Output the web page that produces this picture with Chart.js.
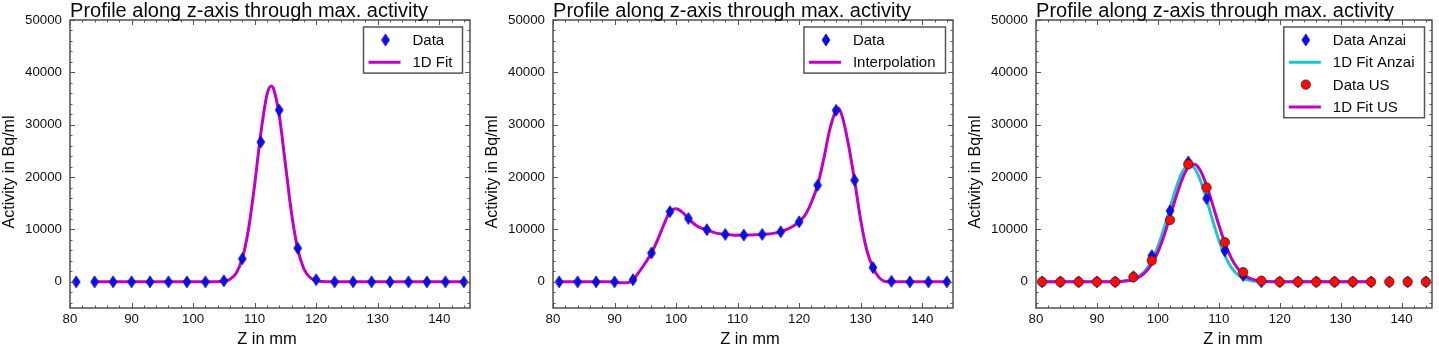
<!DOCTYPE html>
<html>
<head>
<meta charset="utf-8">
<script src="https://cdn.jsdelivr.net/npm/chart.js@4/dist/chart.umd.min.js"></script>
<style>
html,body{margin:0;padding:0;background:#fff;overflow:hidden}
#wrap{position:relative;width:1439px;height:346px;background:#fff}
canvas{position:absolute;top:0}
</style>
</head>
<body>
<div id="wrap">
<canvas id="c1" width="480" height="346" style="left:0px"></canvas>
<canvas id="c2" width="480" height="346" style="left:480px"></canvas>
<canvas id="c3" width="479" height="346" style="left:960px"></canvas>
</div>
<script>
// ---------------- texts ----------------
const TITLE = 'Profile along z-axis through max. activity';
const X_LABEL = 'Z in mm';
const Y_LABEL = 'Activity in Bq/ml';

// ---------------- axes ----------------
const X_TICKS = [80, 90, 100, 110, 120, 130, 140];
const Y_TICKS = [0, 10000, 20000, 30000, 40000, 50000];
const X_MIN = 80, X_MAX = 145, Y_MIN = -5000, Y_MAX = 50000;

// ---------------- measured positions (mm) ----------------
const Z_DATA = [81, 84, 87, 90, 93, 96, 99, 102, 105, 108, 111, 114, 117, 120, 123, 126, 129, 132, 135, 138, 141, 144];

// ---------------- panel 1 ----------------
const P1_DATA = [0, 0, 0, 0, 0, 0, 0, 0, 200, 4400, 26700, 32800, 6400, 400, 0, 0, 0, 0, 0, 0, 0, 0];
const P1_FIT_Z = [84, 90, 96, 100, 102, 103, 104, 105, 106, 107, 108, 109, 110, 111, 112, 112.7, 113, 114, 115, 116, 117, 118, 119, 120, 121, 122, 123, 126, 132, 138, 144];
const P1_FIT = [0, 0, 0, 0, 0, 5, 30, 125, 500, 1650, 4470, 10000, 18500, 28300, 35700, 37400, 37100, 31800, 22500, 13100, 6300, 2500, 830, 220, 50, 10, 0, 0, 0, 0, 0];

// ---------------- panel 2 ----------------
const P2_DATA = [0, 0, 0, 0, 400, 5500, 13400, 12100, 9950, 9060, 8930, 9060, 9560, 11460, 18440, 32760, 19400, 2720, 100, 0, 0, 0];
const P2_INT_Z = [81, 84, 87, 89, 90, 91, 92, 93, 94, 95, 96, 97, 98, 99, 100, 101, 102, 103, 104, 105, 106, 107, 108, 109, 110, 111, 112, 113, 114, 115, 116, 117, 118, 119, 120, 121, 122, 123, 124, 125, 126, 126.3, 127, 128, 129, 130, 131, 132, 133, 134, 135, 136, 138, 141, 144];
const P2_INT = [0, 0, 0, 0, -50, -180, -200, 400, 1900, 3600, 5500, 8000, 10900, 13400, 13950, 13300, 12100, 11000, 10300, 9950, 9500, 9200, 9060, 8950, 8900, 8930, 8960, 9000, 9060, 9150, 9300, 9560, 10000, 10600, 11460, 12800, 15200, 18440, 23500, 29200, 32800, 33200, 31600, 26300, 19400, 11800, 6000, 2720, 800, 50, 0, 0, 0, 0, 0];

// ---------------- panel 3 ----------------
const P3_ANZAI = [0, 0, 0, 0, 0, 1000, 5000, 13550, 22900, 15900, 5950, 1200, 0, 0, 0, 0, 0, 0, 0, 0, 0, 0];
const P3_US = [0, 0, 0, 0, 0, 890, 4050, 11800, 22430, 18000, 7550, 1840, 200, 0, 0, 0, 0, 0, 0, 0, 0, 0];
const P3_FIT_Z = [81, 87, 92, 93, 94, 95, 96, 97, 98, 99, 100, 101, 102, 103, 104, 105, 106, 107, 108, 109, 110, 111, 112, 113, 114, 115, 116, 117, 118, 119, 125, 130, 135];
const P3_FIT_ANZAI = [0, 0, 0, 10, 80, 220, 510, 1120, 2220, 4030, 6690, 10170, 14140, 17970, 20920, 22300, 21700, 19310, 15730, 11720, 7990, 4980, 2840, 1480, 710, 310, 120, 45, 15, 0, 0, 0, 0];
const P3_FIT_US = [0, 0, 10, 25, 80, 190, 440, 950, 1870, 3390, 5670, 8750, 12430, 16260, 19620, 21900, 22450, 21200, 18390, 14750, 10900, 7430, 4670, 2700, 1440, 710, 320, 130, 50, 20, 0, 0, 0];

// ---------------- styles ----------------
const FONT = '"Liberation Sans", Arial, Helvetica, sans-serif';
Chart.defaults.font.family = FONT;
const MAGENTA = '#c000c4';
const CYAN = '#1cc6c6';
const BLUE = '#0a0aff';
const RED = '#ff0a0a';

function diamondImage(w, h) {
  const c = document.createElement('canvas');
  c.width = w + 2; c.height = h + 2;
  const g = c.getContext('2d');
  g.beginPath();
  g.moveTo(c.width / 2, 1);
  g.lineTo(c.width - 1, c.height / 2);
  g.lineTo(c.width / 2, c.height - 1);
  g.lineTo(1, c.height / 2);
  g.closePath();
  g.fillStyle = BLUE; g.fill();
  g.lineWidth = 0.8; g.strokeStyle = 'rgba(10,10,60,0.85)'; g.stroke();
  return c;
}
const DIAMOND = diamondImage(8, 12);

function pts(xs, ys) { return xs.map((x, i) => ({ x: x, y: ys[i] })); }

function dataSet(label, ys, rank, order) {
  return { label, data: pts(Z_DATA, ys), pointStyle: DIAMOND, pointRadius: 6, pointHoverRadius: 6,
           showLine: false, legendRank: rank, order: order, markerKind: 'diamond' };
}
function circleSet(label, ys, rank, order) {
  return { label, data: pts(Z_DATA, ys), pointStyle: 'circle', pointRadius: 4.7, pointHoverRadius: 4.7,
           backgroundColor: RED, borderColor: 'rgba(60,20,20,0.9)', borderWidth: 0.8,
           showLine: false, legendRank: rank, order: order, markerKind: 'circle' };
}
function lineSet(label, xs, ys, color, rank, order) {
  return { label, data: pts(xs, ys), showLine: true, pointRadius: 0, pointHoverRadius: 0,
           borderColor: color, borderWidth: 3, cubicInterpolationMode: 'monotone',
           legendRank: rank, order: order, markerKind: 'line' };
}

// ---------------- plugins ----------------
const frameTicks = {
  id: 'frameTicks',
  afterDraw(chart) {
    const { ctx, chartArea: ca, scales: { x, y } } = chart;
    ctx.save();
    ctx.strokeStyle = '#555';
    ctx.lineWidth = 1;
    ctx.beginPath();
    for (let v = X_MIN; v <= X_MAX; v += 2) {
      const len = (v % 10 === 0) ? 5 : 2.5;
      const px = Math.round(x.getPixelForValue(v)) + 0.5;
      ctx.moveTo(px, ca.bottom); ctx.lineTo(px, ca.bottom - len);
      ctx.moveTo(px, ca.top); ctx.lineTo(px, ca.top + len);
    }
    for (let v = -4000; v <= Y_MAX; v += 2000) {
      const len = (v % 10000 === 0) ? 5 : 2.5;
      const py = Math.round(y.getPixelForValue(v)) + 0.5;
      ctx.moveTo(ca.left, py); ctx.lineTo(ca.left + len, py);
      ctx.moveTo(ca.right, py); ctx.lineTo(ca.right - len, py);
    }
    ctx.stroke();
    ctx.lineWidth = 1.5;
    ctx.strokeStyle = '#505050';
    ctx.strokeRect(ca.left, ca.top, ca.right - ca.left, ca.bottom - ca.top);
    ctx.restore();
  }
};

const texts = {
  id: 'texts',
  afterDraw(chart) {
    const { ctx, chartArea: ca } = chart;
    ctx.save();
    ctx.fillStyle = '#0a0a0a';
    ctx.textAlign = 'center';
    ctx.textBaseline = 'alphabetic';
    ctx.font = '20px ' + FONT;
    ctx.fillText(TITLE, ca.left + 179, 16.5);
    ctx.font = '16.5px ' + FONT;
    ctx.fillText(X_LABEL, ca.left + 197, 344);
    ctx.font = '16px ' + FONT;
    ctx.translate(ca.left - 56.5, ca.top + 152);
    ctx.rotate(-Math.PI / 2);
    ctx.fillText(Y_LABEL, 0, 0);
    ctx.restore();
  }
};

const boxLegend = {
  id: 'boxLegend',
  afterDraw(chart) {
    const { ctx, chartArea: ca } = chart;
    const items = chart.data.datasets.slice().sort((a, b) => a.legendRank - b.legendRank);
    ctx.save();
    ctx.font = '15px ' + FONT;
    const maxW = Math.max(...items.map(d => ctx.measureText(d.label).width));
    const rowH = 22.3;
    const w = 49 + maxW + 10;
    const h = items.length * rowH + 1.5;
    const right = ca.right - 7.5;
    const left = right - w, top = ca.top + 7;
    ctx.fillStyle = '#fff';
    ctx.fillRect(left, top, w, h);
    ctx.strokeStyle = '#555';
    ctx.lineWidth = 1.5;
    ctx.strokeRect(left, top, w, h);
    items.forEach((d, i) => {
      const yy = top + 13 + i * rowH;
      if (d.markerKind === 'line') {
        ctx.strokeStyle = d.borderColor; ctx.lineWidth = 3;
        ctx.beginPath(); ctx.moveTo(left + 5, yy); ctx.lineTo(left + 37, yy); ctx.stroke();
      } else if (d.markerKind === 'diamond') {
        ctx.drawImage(DIAMOND, left + 22 - DIAMOND.width / 2, yy - DIAMOND.height / 2);
      } else {
        ctx.beginPath(); ctx.arc(left + 22, yy, 4.7, 0, Math.PI * 2);
        ctx.fillStyle = RED; ctx.fill();
        ctx.lineWidth = 0.8; ctx.strokeStyle = 'rgba(60,20,20,0.9)'; ctx.stroke();
      }
      ctx.fillStyle = '#0a0a0a';
      ctx.textAlign = 'left';
      ctx.textBaseline = 'middle';
      ctx.fillText(d.label, left + 49, yy + 1);
    });
    ctx.restore();
  }
};

function makeChart(id, datasets, L, R) {
  return new Chart(document.getElementById(id), {
    type: 'scatter',
    data: { datasets },
    options: {
      responsive: false, animation: false, devicePixelRatio: 1, events: [],
      layout: { padding: { top: 20, right: R, left: 0, bottom: 0 } },
      plugins: { legend: { display: false }, tooltip: { enabled: false }, title: { display: false } },
      scales: {
        x: {
          type: 'linear', min: X_MIN, max: X_MAX,
          grid: { display: false, drawTicks: false }, border: { display: false },
          afterBuildTicks: s => { s.ticks = X_TICKS.map(v => ({ value: v })); },
          afterFit: s => { s.height = 38; },
          ticks: { padding: 3, color: '#111', font: { size: 13.3 }, maxRotation: 0, autoSkip: false,
                   callback: v => String(v) }
        },
        y: {
          type: 'linear', min: Y_MIN, max: Y_MAX,
          grid: { display: false, drawTicks: false }, border: { display: false },
          afterBuildTicks: s => { s.ticks = Y_TICKS.map(v => ({ value: v })); },
          afterFit: s => { s.width = L; },
          ticks: { padding: 8, color: '#111', font: { size: 13.3 }, autoSkip: false,
                   callback: v => String(v) }
        }
      }
    },
    plugins: [frameTicks, texts, boxLegend]
  });
}

makeChart('c1', [
  dataSet('Data', P1_DATA, 0, 0),
  lineSet('1D Fit', P1_FIT_Z, P1_FIT, MAGENTA, 1, 1)
], 70, 10);

makeChart('c2', [
  dataSet('Data', P2_DATA, 0, 0),
  lineSet('Interpolation', P2_INT_Z, P2_INT, MAGENTA, 1, 1)
], 73, 6);

makeChart('c3', [
  dataSet('Data Anzai', P3_ANZAI, 0, 1),
  lineSet('1D Fit Anzai', P3_FIT_Z, P3_FIT_ANZAI, CYAN, 1, 3),
  circleSet('Data US', P3_US, 2, 0),
  lineSet('1D Fit US', P3_FIT_Z, P3_FIT_US, MAGENTA, 3, 2)
], 76, 2);
</script>
</body>
</html>
